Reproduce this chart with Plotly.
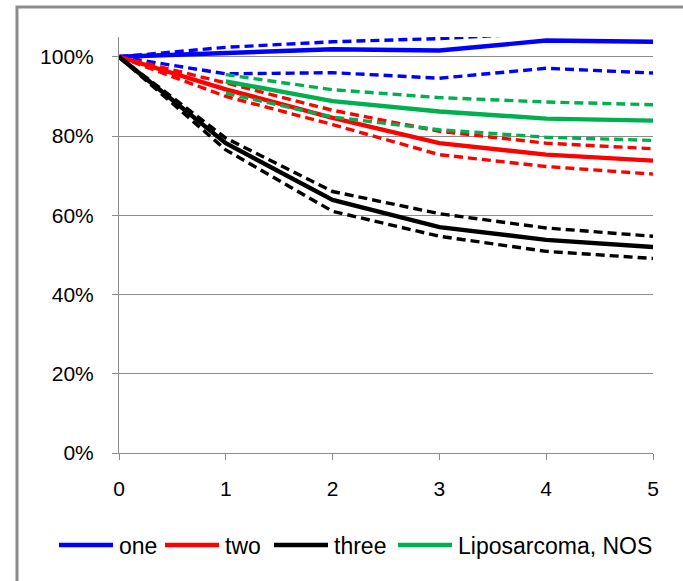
import plotly.graph_objects as go

# Survival proportion by year for each group, with lower/upper bounds
years = [0, 1, 2, 3, 4, 5]

one = [1.00, 1.009, 1.019, 1.016, 1.041, 1.038]
one_upper = [1.00, 1.024, 1.038, 1.046, 1.060, 1.058]
one_lower = [1.00, 0.957, 0.960, 0.946, 0.971, 0.959]

two = [1.00, 0.918, 0.846, 0.782, 0.753, 0.738]
two_upper = [1.00, 0.934, 0.865, 0.812, 0.782, 0.768]
two_lower = [1.00, 0.900, 0.829, 0.753, 0.723, 0.704]

three = [1.00, 0.782, 0.639, 0.570, 0.538, 0.520]
three_upper = [1.00, 0.795, 0.660, 0.604, 0.568, 0.547]
three_lower = [1.00, 0.765, 0.610, 0.547, 0.509, 0.491]

nos = [None, 0.938, 0.888, 0.862, 0.844, 0.839]
nos_upper = [None, 0.955, 0.917, 0.897, 0.886, 0.879]
nos_lower = [None, 0.908, 0.848, 0.816, 0.797, 0.789]

series_names = ["one", "two", "three", "Liposarcoma, NOS"]
series_colors = ["#0000FF", "#FF0000", "#000000", "#00B050"]
series_main = [one, two, three, nos]
series_upper = [one_upper, two_upper, three_upper, nos_upper]
series_lower = [one_lower, two_lower, three_lower, nos_lower]

FONT = "Liberation Sans, Arial, sans-serif"
GRID = "#8C8C8C"

# plot-area geometry (pixels) used to place the key below the axes
W, H = 683, 581
ML, MR, MT, MB = 119, 30, 37, 128
PW, PH = W - ML - MR, H - MT - MB

def px_x(px):
    return (px - ML) / PW

def px_y(py):
    return (H - MB - py) / PH

fig = go.Figure()

for name, color, main, upper, lower in zip(series_names, series_colors,
                                           series_main, series_upper, series_lower):
    for bound in (upper, lower):
        fig.add_trace(go.Scatter(
            x=years, y=bound, mode="lines", showlegend=False, hoverinfo="skip",
            line=dict(color=color, width=3.4, dash="9px,5px"),
        ))
    fig.add_trace(go.Scatter(
        x=years, y=main, mode="lines", name=name, showlegend=False,
        line=dict(color=color, width=4.4),
    ))

# key: one swatch + label per series, in a single row under the x axis
key_swatch_start = [59, 165, 274, 398]
key_swatch_len = 54
key_row_y = 545
shapes = [dict(
    type="rect", xref="paper", yref="paper",
    x0=px_x(17), x1=1.3, y0=-0.6, y1=px_y(7),
    line=dict(color="#8C8C8C", width=3), layer="below",
)]
annotations = []
for name, color, x0 in zip(series_names, series_colors, key_swatch_start):
    shapes.append(dict(
        type="line", xref="paper", yref="paper",
        x0=px_x(x0), x1=px_x(x0 + key_swatch_len),
        y0=px_y(key_row_y), y1=px_y(key_row_y),
        line=dict(color=color, width=4.5),
    ))
    annotations.append(dict(
        text=name, xref="paper", yref="paper",
        x=px_x(x0 + key_swatch_len + 4), y=px_y(key_row_y + 1),
        xanchor="left", yanchor="middle", showarrow=False,
        font=dict(family=FONT, size=23, color="black"),
    ))

fig.update_layout(
    width=W, height=H,
    margin=dict(l=ML, r=MR, t=MT, b=MB, autoexpand=False),
    paper_bgcolor="white", plot_bgcolor="white",
    font=dict(family=FONT, size=21, color="black"),
    showlegend=False,
    shapes=shapes,
    annotations=annotations,
)

fig.update_xaxes(
    range=[0, 5], dtick=1, tick0=0,
    showgrid=False, zeroline=False,
    showline=True, linecolor=GRID, linewidth=1,
    ticks="outside", ticklen=6, tickcolor=GRID,
    ticklabelstandoff=11,
)
fig.update_yaxes(
    range=[0, 1.05], dtick=0.2, tick0=0, tickformat=".0%",
    showgrid=True, gridcolor=GRID, gridwidth=1, zeroline=False,
    showline=True, linecolor=GRID, linewidth=1,
    ticks="outside", ticklen=6, tickcolor=GRID,
    ticklabelstandoff=14,
)

fig.write_html("out.html")
